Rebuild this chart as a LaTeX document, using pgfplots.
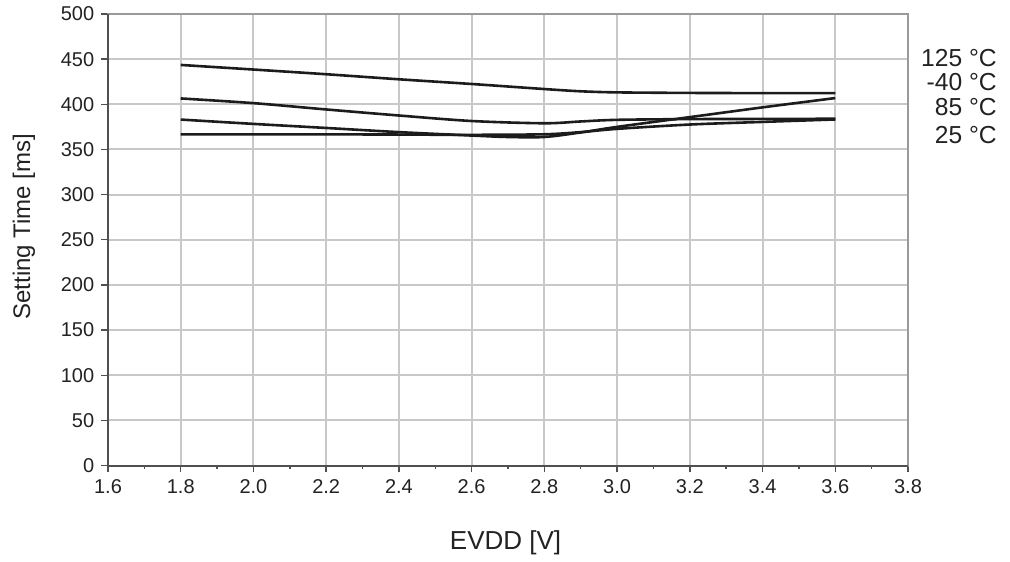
\documentclass[border=0pt]{standalone}
\usepackage{pgfplots}
\pgfplotsset{compat=1.18}
\usepackage{fontspec}
\setmainfont{Liberation Sans}
\definecolor{gridgray}{HTML}{C8C8C8}
\definecolor{bordergray}{HTML}{9A9A9A}
\definecolor{axisdark}{HTML}{505050}
\definecolor{curve}{HTML}{1C1C1C}
\definecolor{txt}{HTML}{222222}
\begin{document}
\begin{tikzpicture}
\begin{axis}[
  scale only axis, width=400pt, height=225.75pt,
  xmin=1.6, xmax=3.8, ymin=0, ymax=500,
  xtick={1.6,1.8,2.0,2.2,2.4,2.6,2.8,3.0,3.2,3.4,3.6,3.8},
  ytick={0,50,100,150,200,250,300,350,400,450,500},
  minor x tick num=1,
  xtick pos=bottom, ytick pos=left,
  grid=major,
  major grid style={color=gridgray, line width=1pt},
  axis line style={color=bordergray, line width=1pt},
  tick style={color=axisdark, line width=0.7pt},
  tick align=outside,
  major tick length=3.4pt, minor tick length=1.6pt,
  /pgf/number format/assume math mode=true,
  x tick label style={font=\fontsize{10}{12}\selectfont, text=txt,
    /pgf/number format/.cd, fixed, fixed zerofill, precision=1},
  y tick label style={font=\fontsize{10}{12}\selectfont, text=txt},
  xlabel={EVDD [V]}, ylabel={Setting Time [ms]},
  every axis x label/.style={at={(axis description cs:0.497,-0.172)}, anchor=center,
    font=\fontsize{13}{15}\selectfont, text=txt},
  every axis y label/.style={at={(axis description cs:-0.105,0.529)}, anchor=center, rotate=90,
    font=\fontsize{12}{14}\selectfont, text=txt},
  clip=false,
]
% 125 C
\addplot[curve, line width=1.3pt, smooth, mark=none] table {
x y
1.8 443.6
2.0 438.5
2.2 433.3
2.4 427.7
2.6 422.5
2.8 416.9
2.9 414.4
3.0 413.2
3.2 412.6
3.4 412.4
3.6 412.3
};
% curve starting near 406
\addplot[curve, line width=1.3pt, smooth, mark=none] table {
x y
1.8 406.5
2.0 401.3
2.2 394.3
2.4 387.6
2.6 381.5
2.8 379.0
2.9 381.0
3.0 382.8
3.2 383.6
3.4 383.8
3.6 384.0
};
% -40 C
\addplot[curve, line width=1.3pt, smooth, mark=none] table {
x y
1.8 383.1
2.0 378.3
2.2 373.8
2.4 369.2
2.6 365.4
2.7 363.8
2.8 363.8
2.9 368.8
3.0 375.0
3.2 385.8
3.4 396.6
3.6 406.9
};
% flat curve
\addplot[curve, line width=1.3pt, smooth, mark=none] table {
x y
1.8 366.7
2.0 366.7
2.2 366.7
2.4 366.5
2.6 366.2
2.8 366.8
2.9 369.2
3.0 372.8
3.2 377.6
3.4 380.5
3.6 383.2
};
\node[anchor=east, font=\fontsize{12.3}{14}\selectfont, text=txt, inner sep=0pt] at (axis cs:4.045,451) {125 °C};
\node[anchor=east, font=\fontsize{12.3}{14}\selectfont, text=txt, inner sep=0pt] at (axis cs:4.045,424.7) {-40 °C};
\node[anchor=east, font=\fontsize{12.3}{14}\selectfont, text=txt, inner sep=0pt] at (axis cs:4.045,397) {85 °C};
\node[anchor=east, font=\fontsize{12.3}{14}\selectfont, text=txt, inner sep=0pt] at (axis cs:4.045,366) {25 °C};
\end{axis}
\draw[color=axisdark, line width=1pt] (current axis.north west) -- (current axis.south west) -- (current axis.south east);
\path (current axis.south west) ++(-54pt,-46.25pt) rectangle ([xshift=51pt,yshift=7pt]current axis.north east);
\end{tikzpicture}
\end{document}
